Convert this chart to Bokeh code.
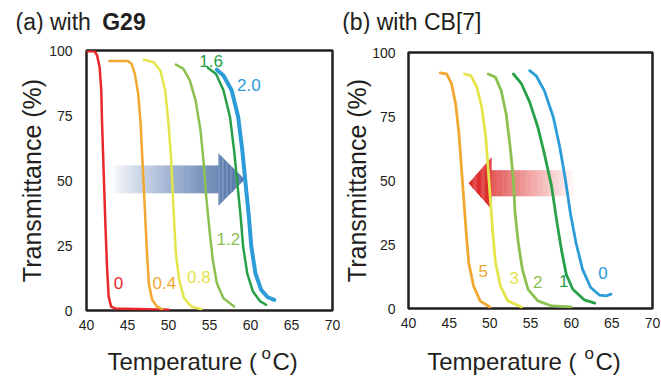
import numpy as np
from bokeh.plotting import figure
from bokeh.layouts import row, column
from bokeh.models import Range1d, FixedTicker, ColumnDataSource
from bokeh.embed import file_html
from bokeh.resources import INLINE
from bokeh.core.properties import value

FONT = "Liberation Sans"
INK = "#231f20"

# ---------------- data: panel (a) with G29 ----------------
x_ticks = [40, 45, 50, 55, 60, 65, 70]
y_ticks = [0, 25, 50, 75, 100]

a0_T = [40.0, 41.0, 41.3, 41.6, 41.8, 41.9, 42.1, 42.3, 42.5, 42.7, 43.0, 43.5, 50.0]
a0_Tr = [99.7, 99.7, 98.0, 93.6, 84.7, 71.9, 52.7, 33.5, 16.9, 5.4, 1.5, 0.8, 0.3]
a04_T = [42.8, 45.0, 45.5, 45.9, 46.3, 46.6, 46.8, 47.0, 47.2, 47.4, 47.6, 48.0, 48.6, 49.2]
a04_Tr = [96.0, 96.0, 94.9, 91.0, 83.4, 71.9, 59.1, 46.3, 33.5, 20.7, 10.5, 4.1, 1.5, 0.5]
a08_T = [47.0, 48.2, 49.0, 49.6, 50.0, 50.3, 50.5, 50.7, 50.9, 51.3, 51.9, 52.8, 54.0]
a08_Tr = [96.5, 95.5, 92.3, 84.7, 71.9, 59.1, 46.3, 33.5, 22.0, 11.8, 4.7, 1.5, 0.5]
a12_T = [50.9, 51.8, 52.6, 53.3, 53.9, 54.3, 54.6, 55.0, 55.4, 55.9, 56.7, 58.0]
a12_Tr = [94.6, 93.0, 88.5, 80.8, 69.3, 56.5, 43.7, 30.9, 19.4, 10.5, 4.7, 1.5]
a16_T = [54.8, 55.8, 56.7, 57.5, 58.0, 58.4, 58.8, 59.1, 59.6, 60.3, 61.2, 61.9]
a16_Tr = [93.4, 91.0, 84.7, 74.4, 61.6, 48.8, 36.1, 24.6, 14.3, 7.3, 3.5, 2.2]
a20_T = [55.9, 56.7, 57.7, 58.5, 59.0, 59.4, 59.8, 60.1, 60.6, 61.3, 62.1, 62.9]
a20_Tr = [92.6, 90.4, 84.7, 74.4, 61.6, 48.8, 36.1, 24.6, 14.3, 7.9, 5.1, 4.1]

a_names = ["0", "0.4", "0.8", "1.2", "1.6", "2.0"]
a_label_x = [43.9, 49.5, 53.7, 57.3, 55.2, 59.8]
a_label_y = [10.7, 10.7, 12.8, 27.4, 96.0, 86.6]

# ---------------- data: panel (b) with CB[7] ----------------
b5_T = [43.9, 44.7, 45.3, 45.8, 46.2, 46.5, 46.8, 47.1, 47.4, 48.0, 48.8, 50.0]
b5_Tr = [92.0, 91.6, 87.7, 79.9, 68.3, 55.4, 42.4, 29.5, 17.9, 8.8, 3.0, 0.6]
b3_T = [46.9, 47.7, 48.4, 49.0, 49.5, 49.8, 50.1, 50.4, 50.7, 51.3, 52.2, 53.9]
b3_Tr = [91.6, 90.9, 86.4, 78.7, 67.0, 54.1, 41.1, 28.2, 17.9, 8.8, 3.0, 0.6]
b2_T = [49.8, 50.7, 51.4, 52.0, 52.5, 52.9, 53.1, 53.5, 54.0, 54.7, 55.9, 57.6, 60.0]
b2_Tr = [91.6, 90.3, 85.1, 76.1, 63.1, 50.2, 37.3, 25.6, 15.3, 7.5, 3.0, 1.0, 0.6]
b1_T = [52.9, 53.9, 54.9, 55.9, 56.7, 57.6, 58.2, 58.8, 59.4, 60.2, 61.6, 62.9]
b1_Tr = [91.6, 87.7, 80.6, 70.9, 60.5, 47.6, 34.7, 23.0, 13.3, 7.5, 3.4, 2.1]
b0_T = [54.9, 55.7, 56.7, 57.8, 58.6, 59.3, 59.9, 60.6, 61.4, 62.4, 63.5, 64.3, 64.9]
b0_Tr = [92.9, 90.9, 85.1, 74.8, 63.1, 50.2, 37.3, 25.6, 15.3, 8.2, 5.2, 4.9, 5.6]

b_names = ["5", "3", "2", "1", "0"]
b_label_x = [49.2, 53.0, 55.9, 59.1, 63.9]
b_label_y = [14.6, 12.0, 10.3, 10.7, 14.0]

# ---------------- styles ----------------
RED = "#e8262b"
ORANGE = "#f0a830"
YELLOW = "#e4e54a"
LGREEN = "#8cc152"
DGREEN = "#27a048"
BLUE = "#2b9cd8"


def hex_to_rgb(h):
    h = h.lstrip("#")
    return np.array([int(h[i:i + 2], 16) for i in (0, 2, 4)], dtype=float)


def mix(c0, c1, f):
    c = hex_to_rgb(c0) * (1 - f) + hex_to_rgb(c1) * f
    return "#%02x%02x%02x" % tuple(int(round(v)) for v in c)


def gradient_arrow(p, tail, base, tip, yc, shaft_h, head_h, c_tail, c_tip,
                   head_solid=None, gamma=1.0, n=70):
    span = tip - tail
    xs = np.linspace(tail, base, n + 1)
    lefts, rights, cols = [], [], []
    for i in range(n):
        x0, x1 = xs[i], xs[i + 1]
        f = ((0.5 * (x0 + x1) - tail) / span) ** gamma
        lo, hi = min(x0, x1), max(x0, x1)
        lefts.append(lo - 0.03)
        rights.append(hi + 0.03)
        cols.append(mix(c_tail, c_tip, min(max(f, 0), 1)))
    p.quad(left=lefts, right=rights, bottom=yc - shaft_h, top=yc + shaft_h,
           fill_color=cols, line_color=None)
    m = 20
    hx = np.linspace(base, tip, m + 1)
    pxs, pys, pcols = [], [], []
    for i in range(m):
        x0, x1 = hx[i], hx[i + 1]
        h1 = head_h * (tip - x1) / (tip - base)
        x0e = x0 - 0.02 * np.sign(span)
        h0e = head_h * (tip - x0e) / (tip - base)
        pxs.append([x0e, x1, x1, x0e])
        pys.append([yc - h0e, yc - h1, yc + h1, yc + h0e])
        if head_solid:
            pcols.append(head_solid)
        else:
            f = ((0.5 * (x0 + x1) - tail) / span) ** gamma
            pcols.append(mix(c_tail, c_tip, min(max(f, 0), 1)))
    p.patches(xs=pxs, ys=pys, fill_color=pcols, line_color=None)


def make_fig(width, height, bl, br, bt, bb, tick_standoff=14, label_standoff=0):
    p = figure(width=width, height=height, x_range=Range1d(40, 70), y_range=Range1d(0, 100),
               output_backend="svg", toolbar_location=None, tools="", title=None,
               min_border_left=bl, min_border_right=br, min_border_top=bt,
               min_border_bottom=bb, frame_align=False)
    p.grid.visible = False
    p.outline_line_color = INK
    p.outline_line_width = 2.5
    p.outline_line_alpha = 1.0
    p.background_fill_color = "white"
    p.border_fill_color = "white"
    for ax in (p.xaxis[0], p.yaxis[0]):
        ax.axis_line_color = None
        ax.major_tick_line_color = None
        ax.minor_tick_line_color = None
        ax.major_tick_out = 0
        ax.major_tick_in = 0
        ax.minor_tick_out = 0
        ax.minor_tick_in = 0
        ax.major_label_text_font = FONT
        ax.major_label_text_font_size = "14px"
        ax.major_label_text_color = INK
    p.xaxis.ticker = FixedTicker(ticks=x_ticks)
    p.yaxis.ticker = FixedTicker(ticks=y_ticks)
    p.xaxis.major_label_standoff = 9
    p.yaxis.major_label_standoff = tick_standoff
    p.yaxis.axis_label = "Transmittance (%)"
    p.yaxis.axis_label_text_font = FONT
    p.yaxis.axis_label_text_font_size = "25px"
    p.yaxis.axis_label_text_font_style = "normal"
    p.yaxis.axis_label_text_color = INK
    p.yaxis.axis_label_standoff = label_standoff
    return p


def text_strip(width, height, xs, ys, texts, sizes, styles):
    """A bare figure in pixel units (y downwards) holding free text."""
    s = figure(width=width, height=height, x_range=Range1d(0, width),
               y_range=Range1d(height, 0), output_backend="svg", toolbar_location=None,
               tools="", title=None, x_axis_location=None, y_axis_location=None,
               min_border_left=0, min_border_right=0, min_border_top=0, min_border_bottom=0,
               frame_align=False)
    s.grid.visible = False
    s.outline_line_color = None
    s.background_fill_color = "white"
    s.border_fill_color = "white"
    # the alphabetic baseline renders about 0.23 em low; compensate
    ys_adj = [y - 0.23 * float(fs.replace("px", "")) for y, fs in zip(ys, sizes)]
    src = ColumnDataSource(dict(x=xs, y=ys_adj, t=texts, fs=sizes, st=styles))
    s.text(x="x", y="y", text="t", source=src, text_font=value(FONT),
           text_font_size="fs", text_font_style="st", text_color=INK,
           text_align="left", text_baseline="alphabetic")
    return s


WA, WB = 340, 320
TOP_H, MAIN_H, BOT_H = 34, 306, 35

# ---------------- panel (a) ----------------
pa = make_fig(WA, MAIN_H, 86, 8, 16, 30)
gradient_arrow(pa, tail=43.1, base=56.1, tip=59.3, yc=50.4, shaft_h=5.35, head_h=10.05,
               c_tail="#ffffff", c_tip="#4c6fa6", gamma=0.8)

for T, Tr, c, w in [(a0_T, a0_Tr, RED, 2.5), (a04_T, a04_Tr, ORANGE, 2.5),
                    (a08_T, a08_Tr, YELLOW, 2.5), (a12_T, a12_Tr, LGREEN, 2.5),
                    (a16_T, a16_Tr, DGREEN, 2.5), (a20_T, a20_Tr, BLUE, 4.0)]:
    pa.line(T, Tr, line_color=c, line_width=w, line_cap="round", line_join="round")

src_a = ColumnDataSource(dict(x=a_label_x, y=a_label_y, t=a_names,
                              c=[RED, ORANGE, YELLOW, LGREEN, DGREEN, BLUE]))
pa.text(x="x", y="y", text="t", text_color="c", source=src_a, text_font=value(FONT),
        text_font_size="17px", text_align="center", text_baseline="middle")

ta = text_strip(WA, TOP_H, [15, 101.7], [27, 27], ["(a) with", "G29"],
                ["23px", "23px"], ["normal", "bold"])
xa = text_strip(WA, BOT_H, [107, 261, 272], [27, 17, 27], ["Temperature (", "o", "C)"],
                ["24px", "17px", "24px"], ["normal", "normal", "normal"])

# ---------------- panel (b) ----------------
pb = make_fig(WB, MAIN_H, 67, 8, 18, 32, tick_standoff=13, label_standoff=-2)
gradient_arrow(pb, tail=60.6, base=50.2, tip=47.4, yc=48.9, shaft_h=5.1, head_h=10.1,
               c_tail="#ffffff", c_tip="#dd2a2a", head_solid="#dd2a2a", gamma=1.0)

for T, Tr, c, w in [(b5_T, b5_Tr, ORANGE, 2.8), (b3_T, b3_Tr, YELLOW, 2.8),
                    (b2_T, b2_Tr, LGREEN, 2.8), (b1_T, b1_Tr, DGREEN, 2.8),
                    (b0_T, b0_Tr, BLUE, 2.8)]:
    pb.line(T, Tr, line_color=c, line_width=w, line_cap="round", line_join="round")

src_b = ColumnDataSource(dict(x=b_label_x, y=b_label_y, t=b_names,
                              c=[ORANGE, YELLOW, LGREEN, DGREEN, BLUE]))
pb.text(x="x", y="y", text="t", text_color="c", source=src_b, text_font=value(FONT),
        text_font_size="17px", text_align="center", text_baseline="middle")

tb = text_strip(WB, TOP_H, [1.7], [27], ["(b) with CB[7]"], ["23px"], ["normal"])
xb = text_strip(WB, BOT_H, [86.7, 244, 255], [27, 17, 27], ["Temperature (", "o", "C)"],
                ["24px", "17px", "24px"], ["normal", "normal", "normal"])

layout = row(column(ta, pa, xa), column(tb, pb, xb))
open("out.html", "w").write(file_html(layout, INLINE))
